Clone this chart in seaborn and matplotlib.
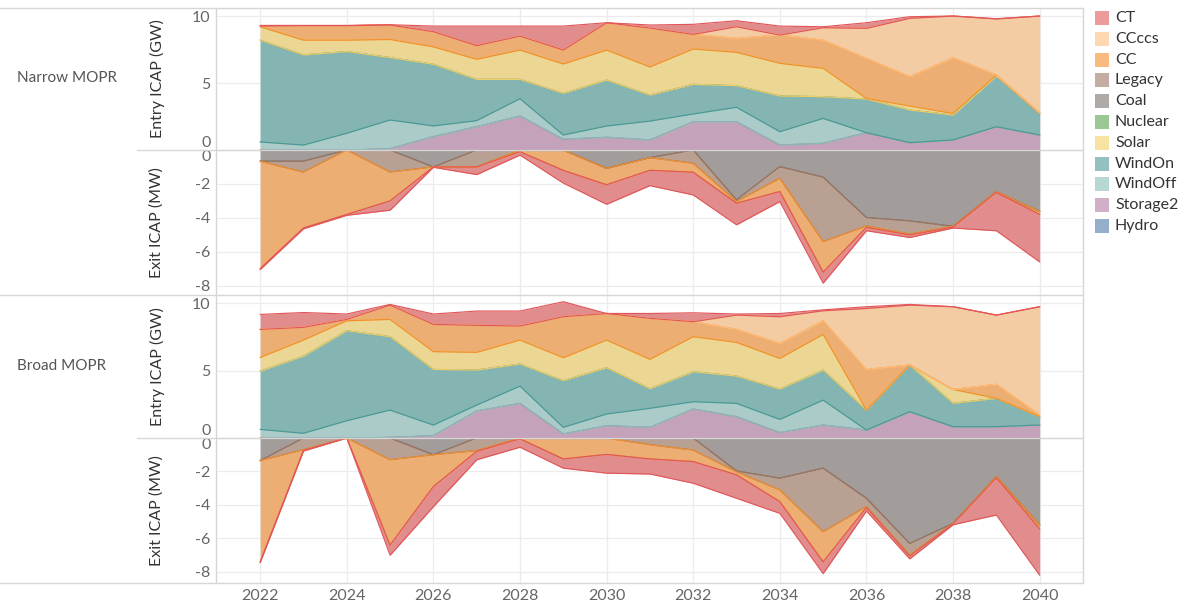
import numpy as np
import pandas as pd
import matplotlib.pyplot as plt
import seaborn as sns
from matplotlib.lines import Line2D
from matplotlib.patches import Rectangle
from matplotlib.colors import to_rgb

years = list(range(2022, 2041))

# Narrow MOPR - entry (GW)
ne_storage2 = [0, 0, 0, 0.1, 1.0, 1.74, 2.54, 0.8, 0.95, 0.75, 2.11, 2.11, 0.37, 0.5, 1.29, 0.55, 0.75, 1.74, 1.12]
ne_windoff = [0.6, 0.37, 1.25, 2.14, 0.8, 0.45, 1.29, 0.32, 0.84, 1.41, 0.58, 1.08, 1.0, 1.86, 0, 0, 0, 0, 0]
ne_windon = [7.6, 6.73, 6.1, 4.66, 4.6, 3.08, 1.44, 3.11, 3.43, 1.94, 2.21, 1.61, 2.66, 1.62, 2.51, 2.43, 1.86, 3.78, 1.62]
ne_solar = [1.0, 1.1, 0.85, 1.35, 1.3, 1.5, 2.19, 2.19, 2.24, 2.1, 2.64, 2.49, 2.44, 2.12, 0.05, 0.3, 0.12, 0.08, 0]
ne_cc = [0.05, 1.08, 1.08, 1.08, 1.13, 1.02, 1.04, 1.04, 2.04, 2.9, 1.09, 1.04, 2.11, 2.1, 2.99, 2.19, 4.16, 0, 0.04]
ne_ccccs = [0, 0, 0, 0, 0, 0, 0, 0, 0, 0, 0, 0.87, 0, 0.93, 2.24, 4.36, 3.11, 4.18, 7.22]
ne_ct = [0.05, 0.02, 0.02, 0.02, 0.42, 1.46, 0.75, 1.79, 0, 0.23, 0.75, 0.45, 0.67, 0.07, 0.42, 0.12, 0, 0.02, 0]

# Narrow MOPR - exit
nx_coal = [-0.66, -0.66, 0, 0, -1.0, 0, 0, 0, -1.08, -0.45, 0, -2.94, -0.98, -1.6, -3.98, -4.18, -4.5, -2.45, -3.63]
nx_legacy = [0, -0.64, 0, -1.3, 0, -1.0, 0, 0, 0, 0, -0.78, -0.1, -0.69, -3.8, -0.5, -0.78, 0, 0, 0]
nx_cc = [-6.34, -3.3, -3.8, -1.7, 0, 0, -0.1, -1.2, -0.97, -0.75, -0.53, -0.1, -0.78, -1.8, -0.08, -0.05, -0.05, -0.05, -0.17]
nx_ct = [-0.05, -0.05, -0.05, -0.55, -0.02, -0.45, -0.2, -0.75, -1.15, -0.9, -1.34, -1.27, -0.59, -0.65, -0.2, -0.15, -0.05, -2.26, -2.8]

# Broad MOPR - entry (GW)
be_storage2 = [0, 0, 0, 0.05, 0.17, 2.0, 2.57, 0.3, 0.91, 0.79, 2.15, 1.58, 0.4, 0.96, 0.59, 1.95, 0.84, 0.84, 0.96]
be_windoff = [0.64, 0.35, 1.28, 2.02, 0.79, 0.44, 1.28, 0.49, 0.87, 1.41, 0.54, 0.99, 0.98, 1.85, 0, 0, 0, 0, 0]
be_windon = [4.32, 5.72, 6.67, 5.44, 4.12, 2.6, 1.63, 3.46, 3.43, 1.45, 2.22, 2.02, 2.25, 2.23, 1.48, 3.46, 1.73, 2.1, 0.62]
be_solar = [1.01, 1.19, 0.74, 1.28, 1.32, 1.31, 1.78, 1.7, 2.05, 2.18, 2.6, 2.5, 2.27, 2.64, 0, 0, 1.03, 0, 0]
be_cc = [2.08, 0.94, 0.1, 1.06, 2.02, 2.0, 1.04, 3.04, 1.97, 3.04, 1.11, 0.96, 1.11, 1.01, 3.01, 0, 0, 1.04, 0.12]
be_ccccs = [0, 0, 0, 0, 0, 0, 0, 0, 0, 0, 0, 1.06, 1.98, 0.74, 4.52, 4.44, 6.13, 5.13, 8.03]
be_ct = [1.11, 1.1, 0.4, 0.05, 0.77, 1.06, 1.11, 1.11, 0, 0.36, 0.66, 0.08, 0.24, 0.07, 0.13, 0.05, 0, 0, 0]

# Broad MOPR - exit
bx_coal = [-1.35, 0, 0, 0, -1.0, 0, 0, 0, 0, 0, 0, -1.97, -2.4, -1.8, -3.6, -6.3, -5.1, -2.3, -5.2]
bx_legacy = [0, -0.7, 0, -1.3, 0, -0.75, 0, 0, 0, -0.4, -0.72, -0.05, -0.7, -3.8, -0.5, -0.7, 0, 0, 0]
bx_cc = [-6.05, -0.05, 0, -5.1, -1.9, -0.05, -0.05, -1.25, -0.98, -0.85, -0.69, -0.18, -0.7, -1.8, -0.05, -0.05, -0.03, -0.08, -0.23]
bx_ct = [-0.05, -0.03, 0, -0.6, -1.2, -0.5, -0.5, -0.55, -1.12, -0.9, -1.29, -1.4, -0.7, -0.7, -0.21, -0.17, -0.05, -2.22, -2.77]

techs = ["CT", "CCccs", "CC", "Legacy", "Coal", "Nuclear", "Solar", "WindOn", "WindOff", "Storage2", "Hydro"]
colores = {"CT": "#E15759", "CCccs": "#FFBE7D", "CC": "#F28E2B", "Legacy": "#9D7660", "Coal": "#79706E",
           "Nuclear": "#59A14F", "Solar": "#F1CE63", "WindOn": "#499894", "WindOff": "#86BCB6",
           "Storage2": "#B07AA1", "Hydro": "#4E79A7"}


def relleno(nombre, a=0.64, oscuro=0.955):
    c = np.array(to_rgb(colores[nombre]))
    return tuple((1 - a * (1 - c)) * oscuro)


entry_narrow = pd.DataFrame({"Storage2": ne_storage2, "WindOff": ne_windoff, "WindOn": ne_windon,
                             "Solar": ne_solar, "CC": ne_cc, "CCccs": ne_ccccs, "CT": ne_ct}, index=years)
exit_narrow = pd.DataFrame({"Coal": nx_coal, "Legacy": nx_legacy, "CC": nx_cc, "CT": nx_ct}, index=years)
entry_broad = pd.DataFrame({"Storage2": be_storage2, "WindOff": be_windoff, "WindOn": be_windon,
                            "Solar": be_solar, "CC": be_cc, "CCccs": be_ccccs, "CT": be_ct}, index=years)
exit_broad = pd.DataFrame({"Coal": bx_coal, "Legacy": bx_legacy, "CC": bx_cc, "CT": bx_ct}, index=years)

sns.set_theme(style="whitegrid")
plt.rcParams['font.family'] = ['Lato', 'DejaVu Sans']

W, H = 1189, 610
fig = plt.figure(figsize=(W / 100, H / 100), dpi=100)

x_izq, x_der = 216, 1083
paneles = [(8, 150, entry_narrow, "entry"), (150, 295, exit_narrow, "exit"),
           (295, 438, entry_broad, "entry"), (438, 583, exit_broad, "exit")]

gris_txt = "#666666"
axes = []
for top, bot, df, tipo in paneles:
    ax = fig.add_axes([x_izq / W, 1 - bot / H, (x_der - x_izq) / W, (bot - top) / H])
    axes.append(ax)
    # areas apiladas
    base = np.zeros(len(years))
    for nombre in df.columns:
        sup = base + df[nombre].to_numpy()
        ax.fill_between(years, base, sup, color=relleno(nombre), lw=0, zorder=2)
        base = sup
    base = np.zeros(len(years))
    for nombre in df.columns:
        sup = base + df[nombre].to_numpy()
        for borde in (base, sup):
            sns.lineplot(x=years, y=borde, color=colores[nombre], lw=0.85, ax=ax, zorder=3)
        base = sup

    ax.set_xlim(2020.98, 2041.0)
    if tipo == "entry":
        ax.set_ylim(0, 10.6)
        ax.set_yticks([0, 5, 10])
        ax.set_yticklabels(["0", "5", "10"])
    else:
        ax.set_ylim(-8.55 if top < 300 else -8.66, 0)
        ax.set_yticks([0, -2, -4, -6, -8])
        ax.set_yticklabels(["0", "-2", "-4", "-6", "-8"])
    ax.set_xticks(range(2022, 2041, 2))
    ax.grid(True, color="#ececec", lw=0.9)
    ax.set_axisbelow(True)
    for s in ax.spines.values():
        s.set_visible(False)
    ax.tick_params(axis="both", length=0, labelsize=11.5, colors=gris_txt, pad=4)
    ax.set_xlabel("")
    ax.set_ylabel("")
    for lbl in ax.get_yticklabels():
        if lbl.get_text() == "0":
            lbl.set_va("bottom" if tipo == "entry" else "top")
    if bot != 583:
        ax.set_xticklabels([])
    else:
        ax.set_xticklabels([str(y) for y in range(2022, 2041, 2)])

# titulos de ejes y filas
for top, bot, df, tipo in paneles:
    txt = "Entry ICAP (GW)" if tipo == "entry" else "Exit ICAP (MW)"
    fig.text(157 / W, 1 - (top + bot) / 2 / H, txt, rotation=90, ha="center", va="center",
             fontsize=11.5, color="#333333")
fig.text(17 / W, 1 - 78 / H, "Narrow MOPR", ha="left", va="center", fontsize=11, color="#555555")
fig.text(17 / W, 1 - 366 / H, "Broad MOPR", ha="left", va="center", fontsize=11, color="#555555")

# lineas de separacion
col_lin = "#d6d6d6"
for y, x0 in [(8, 0), (150, 137), (295, 0), (438, 137), (583, 0)]:
    fig.add_artist(Line2D([x0 / W, x_der / W], [1 - y / H, 1 - y / H], color=col_lin, lw=1))
for x in (x_izq, x_der):
    fig.add_artist(Line2D([x / W, x / W], [1 - 8 / H, 1 - 583 / H], color=col_lin, lw=1))

# leyenda
for i, nombre in enumerate(techs):
    yc = 18 + i * 20.8
    fig.add_artist(Rectangle((1095 / W, 1 - (yc + 7) / H), 14 / W, 14 / H,
                             facecolor=relleno(nombre, 0.6, 1.0), edgecolor="none"))
    fig.text(1115 / W, 1 - yc / H, nombre, ha="left", va="center", fontsize=11.5, color="#333333")

fig.savefig("out.png", dpi=100)
